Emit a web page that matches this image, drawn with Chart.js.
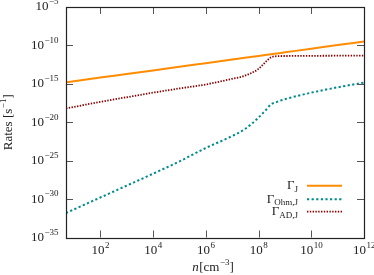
<!DOCTYPE html>
<html><head><meta charset="utf-8">
<script src="https://cdn.jsdelivr.net/npm/chart.js@4/dist/chart.umd.min.js"></script>
<style>html,body{margin:0;padding:0;background:#fff}#wrap{width:374px;height:275px;position:relative}</style>
</head><body><div id="wrap"><canvas id="c" width="374" height="275"></canvas></div>
<script>
// ---- data ----
const density = [5, 1e1, 1e2, 1e3, 1e4, 1e5, 1e6, 1e7, 3e7, 1e8, 1.8e8, 3e8, 5e8, 1e9, 1e10, 1e11, 1e12];
const gammaJ   = [1.58e-15, 2.2e-15, 6.5e-15, 1.9e-14, 5.6e-14, 1.66e-13, 4.9e-13, 1.45e-12, 2.45e-12, 4.3e-12, 5.6e-12, 7.1e-12, 9.1e-12, 1.26e-11, 3.7e-11, 1.1e-10, 3.2e-10];
const gammaOhm = [1.55e-32, 4.5e-32, 1.6e-30, 5.6e-29, 2e-27, 7.9e-26, 4.5e-24, 1.6e-22, 1.26e-21, 4e-20, 3.2e-19, 2.2e-18, 4.5e-18, 1e-17, 7.1e-17, 3.5e-16, 1.45e-15];
const gammaAD  = [6.5e-19, 1e-18, 4.5e-18, 1.8e-17, 7.1e-17, 2.5e-16, 8.3e-16, 4.5e-15, 1.12e-14, 8.9e-14, 6.3e-13, 2.8e-12, 4e-12, 4.2e-12, 4.4e-12, 4.6e-12, 4.8e-12];
const xTickValues = [1e2, 1e4, 1e6, 1e8, 1e10, 1e12];
const xTickExponents = ['2', '4', '6', '8', '10', '12'];
const yTickValues = [1e-35, 1e-30, 1e-25, 1e-20, 1e-15, 1e-10, 1e-5];
const yTickExponents = ['\u221235', '\u221230', '\u221225', '\u221220', '\u221215', '\u221210', '\u22125'];
const seriesBase = ['\u0393', '\u0393', '\u0393'];
const seriesSub = ['J', 'Ohm,J', 'AD,J'];
const yTitle = ['Rates [s', '\u22121', ']'];
const xTitle = ['n', '[cm', '\u22123', ']'];

const SERIF = '"Liberation Serif", "DejaVu Serif", serif';
const TXT = '#222';
const BS = 13, SS = 9;

function drawSup(ctx, x, y, base, sup, align, bs, ss) {
  ctx.font = bs + 'px ' + SERIF;
  const wb = ctx.measureText(base).width;
  ctx.font = ss + 'px ' + SERIF;
  const ws = ctx.measureText(sup).width;
  const total = wb + ws;
  let x0 = align === 'right' ? x - total : (align === 'center' ? x - total / 2 : x);
  ctx.textAlign = 'left';
  ctx.textBaseline = 'middle';
  ctx.font = bs + 'px ' + SERIF;
  ctx.fillText(base, x0, y);
  ctx.font = ss + 'px ' + SERIF;
  ctx.fillText(sup, x0 + wb + 0.5, y - 5);
}

const decor = {
  id: 'decor',
  afterDatasetsDraw(chart) {
    const ctx = chart.ctx, a = chart.chartArea;
    const xs = chart.scales.x, ys = chart.scales.y;
    ctx.save();
    ctx.strokeStyle = '#555';
    ctx.lineWidth = 1;
    const TL = 7;
    xTickValues.forEach(v => {
      const px = Math.round(xs.getPixelForValue(v)) + 0.5;
      if (v >= 1e12) return;
      ctx.beginPath();
      ctx.moveTo(px, a.bottom); ctx.lineTo(px, a.bottom - TL);
      ctx.moveTo(px, a.top); ctx.lineTo(px, a.top + TL);
      ctx.stroke();
    });
    yTickValues.forEach(v => {
      if (v <= 1e-35 || v >= 1e-5) return;
      const py = Math.round(ys.getPixelForValue(v)) + 0.5;
      ctx.beginPath();
      ctx.moveTo(a.left, py); ctx.lineTo(a.left + TL, py);
      ctx.moveTo(a.right, py); ctx.lineTo(a.right - TL, py);
      ctx.stroke();
    });
    ctx.strokeStyle = '#222';
    ctx.lineWidth = 1.2;
    ctx.strokeRect(Math.round(a.left) + 0.5, Math.round(a.top) + 0.5, Math.round(a.right - a.left), Math.round(a.bottom - a.top));
    ctx.fillStyle = TXT;
    xTickValues.forEach((v, i) => {
      const px = xs.getPixelForValue(v);
      drawSup(ctx, px, a.bottom + 13.5, '10', xTickExponents[i], 'center', BS, SS);
    });
    yTickValues.forEach((v, i) => {
      const py = ys.getPixelForValue(v);
      drawSup(ctx, 58, py, '10', yTickExponents[i], 'right', BS, SS);
    });
    ctx.save();
    ctx.translate(9, (a.top + a.bottom) / 2);
    ctx.rotate(-Math.PI / 2);
    ctx.font = BS + 'px ' + SERIF;
    const w1 = ctx.measureText(yTitle[0]).width;
    ctx.font = SS + 'px ' + SERIF;
    const w2 = ctx.measureText(yTitle[1]).width;
    ctx.font = BS + 'px ' + SERIF;
    const w3 = ctx.measureText(yTitle[2]).width;
    let x0 = -(w1 + w2 + w3 + 0.5) / 2;
    ctx.textBaseline = 'middle'; ctx.textAlign = 'left';
    ctx.fillText(yTitle[0], x0, 0);
    ctx.font = SS + 'px ' + SERIF;
    ctx.fillText(yTitle[1], x0 + w1 + 0.5, -5);
    ctx.font = BS + 'px ' + SERIF;
    ctx.fillText(yTitle[2], x0 + w1 + w2 + 0.5, 0);
    ctx.restore();
    {
      const cy = 267.5, cx = (a.left + a.right) / 2 - 2;
      ctx.textBaseline = 'middle'; ctx.textAlign = 'left';
      ctx.font = 'italic ' + BS + 'px ' + SERIF;
      const a1 = ctx.measureText(xTitle[0]).width;
      ctx.font = BS + 'px ' + SERIF;
      const a2 = ctx.measureText(xTitle[1]).width;
      ctx.font = SS + 'px ' + SERIF;
      const a3 = ctx.measureText(xTitle[2]).width;
      ctx.font = BS + 'px ' + SERIF;
      const a4 = ctx.measureText(xTitle[3]).width;
      let x = cx - (a1 + a2 + a3 + a4 + 1) / 2;
      ctx.font = 'italic ' + BS + 'px ' + SERIF; ctx.fillText(xTitle[0], x, cy); x += a1 + 0.5;
      ctx.font = BS + 'px ' + SERIF; ctx.fillText(xTitle[1], x, cy); x += a2 + 0.5;
      ctx.font = SS + 'px ' + SERIF; ctx.fillText(xTitle[2], x, cy - 5); x += a3;
      ctx.font = BS + 'px ' + SERIF; ctx.fillText(xTitle[3], x, cy);
    }
    const rows = [185.7, 199.3, 211.7];
    chart.data.datasets.forEach((ds, i) => {
      const y = rows[i];
      ctx.font = BS + 'px ' + SERIF;
      const wb = ctx.measureText(seriesBase[i]).width;
      ctx.font = SS + 'px ' + SERIF;
      const wsub = ctx.measureText(seriesSub[i]).width;
      const xr = 298;
      ctx.fillStyle = TXT;
      ctx.textBaseline = 'middle'; ctx.textAlign = 'left';
      ctx.font = BS + 'px ' + SERIF;
      ctx.fillText(seriesBase[i], xr - wb - wsub, y);
      ctx.font = SS + 'px ' + SERIF;
      ctx.fillText(seriesSub[i], xr - wsub, y + 3.5);
      ctx.strokeStyle = ds.borderColor;
      ctx.lineWidth = ds.borderWidth;
      ctx.setLineDash(ds.borderDash || []);
      ctx.beginPath();
      ctx.moveTo(307, y); ctx.lineTo(342, y);
      ctx.stroke();
      ctx.setLineDash([]);
    });
    ctx.restore();
  }
};

new Chart(document.getElementById('c'), {
  type: 'line',
  data: {
    labels: density,
    datasets: [
      { label: '\u0393_J', data: density.map((x, i) => ({x, y: gammaJ[i]})), borderColor: '#ff8c00', borderWidth: 2, pointRadius: 0, cubicInterpolationMode: 'monotone', fill: false },
      { label: '\u0393_Ohm,J', data: density.map((x, i) => ({x, y: gammaOhm[i]})), borderColor: '#008b8b', borderWidth: 2, borderDash: [2.2, 2.4], pointRadius: 0, cubicInterpolationMode: 'monotone', fill: false },
      { label: '\u0393_AD,J', data: density.map((x, i) => ({x, y: gammaAD[i]})), borderColor: '#8b0000', borderWidth: 1.8, borderDash: [1.4, 1.4], pointRadius: 0, cubicInterpolationMode: 'monotone', fill: false }
    ]
  },
  options: {
    responsive: false,
    animation: false,
    devicePixelRatio: 1,
    layout: { padding: { top: 7, right: 10, left: 0, bottom: 0 } },
    plugins: { legend: { display: false }, tooltip: { enabled: false } },
    scales: {
      x: {
        type: 'logarithmic', min: 5, max: 1e12,
        grid: { display: false }, border: { display: false },
        ticks: { display: false },
        afterBuildTicks: s => { s.ticks = xTickValues.map(v => ({ value: v })); },
        afterFit: s => { s.height = 37.5; }
      },
      y: {
        type: 'logarithmic', min: 1e-35, max: 1e-5,
        grid: { display: false }, border: { display: false },
        ticks: { display: false },
        afterBuildTicks: s => { s.ticks = yTickValues.map(v => ({ value: v })); },
        afterFit: s => { s.width = 66; }
      }
    }
  },
  plugins: [decor]
});
</script>
</body></html>
